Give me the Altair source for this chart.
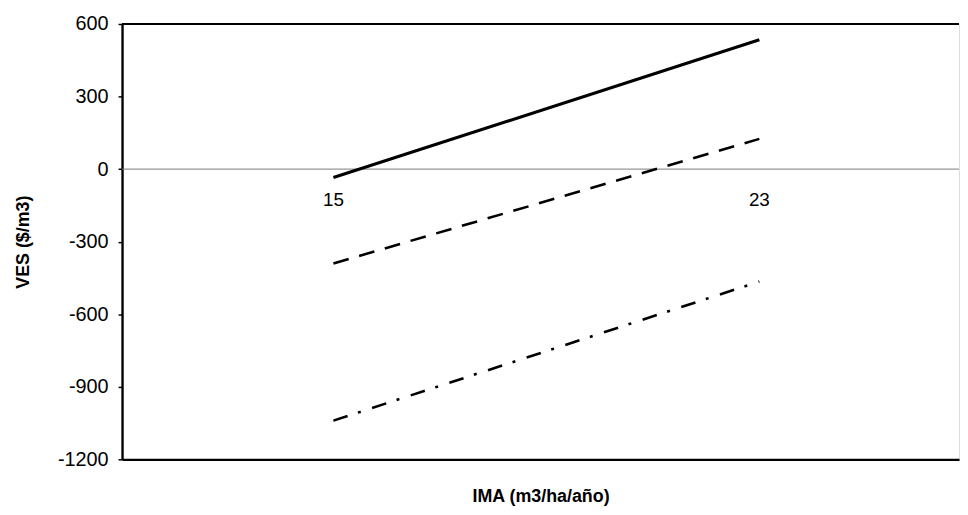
import altair as alt
import pandas as pd

# data
ima = [15, 23]
ima_labels = ["15", "23"]
serie_continua = [-35, 535]
serie_guiones = [-390, 125]
serie_punto_raya = [-1040, -465]
y_ticks = [-1200, -900, -600, -300, 0, 300, 600]

W, H = 844, 439
FONT = "Liberation Sans"

x_scale = alt.Scale(domain=[11.03, 26.75], nice=False, zero=False)
y_scale = alt.Scale(domain=[-1200, 600], nice=False)

df = pd.DataFrame({
    "IMA": ima * 3,
    "VES": serie_continua + serie_guiones + serie_punto_raya,
    "serie": ["continua"] * 2 + ["guiones"] * 2 + ["punto_raya"] * 2,
})
lab_df = pd.DataFrame({"IMA": ima, "lab": ima_labels, "VES": [0, 0]})

x_enc = alt.X("IMA:Q", scale=x_scale,
              axis=alt.Axis(title="IMA (m3/ha/año)", labels=False, ticks=False, grid=False,
                            domainColor="black", domainWidth=2.2,
                            titleFont=FONT, titleFontSize=18, titleFontWeight="bold",
                            titleColor="black", titlePadding=29))
y_enc = alt.Y("VES:Q", scale=y_scale,
              axis=alt.Axis(title="VES ($/m3)", values=y_ticks, grid=False,
                            labelExpr="'' + datum.value",
                            domainColor="black", domainWidth=2.4,
                            tickColor="black", tickSize=4, tickWidth=1.5,
                            labelFont=FONT, labelFontSize=20, labelColor="black",
                            labelPadding=10,
                            titleFont=FONT, titleFontSize=18, titleFontWeight="bold",
                            titleColor="black", titlePadding=25))

base = alt.Chart(df).encode(x=x_enc, y=y_enc)

zero_line = alt.Chart(pd.DataFrame({"VES": [0]})).mark_rule(color="#7a7a7a", strokeWidth=1).encode(
    y=alt.Y("VES:Q", scale=y_scale), x=alt.value(0), x2=alt.value(W))
top_line = alt.Chart(pd.DataFrame({"VES": [600]})).mark_rule(color="black", strokeWidth=2.2).encode(
    y=alt.Y("VES:Q", scale=y_scale), x=alt.value(0), x2=alt.value(W))

l1 = base.transform_filter("datum.serie == 'continua'").mark_line(
    color="black", strokeWidth=3.2)
l2 = base.transform_filter("datum.serie == 'guiones'").mark_line(
    color="black", strokeWidth=2.6, strokeDash=[16, 11])
l3 = base.transform_filter("datum.serie == 'punto_raya'").mark_line(
    color="black", strokeWidth=2.6, strokeDash=[15, 11, 3, 12])

labels = alt.Chart(lab_df).mark_text(font=FONT, fontSize=19, color="black",
                                     baseline="middle", align="center", dy=31).encode(
    x=alt.X("IMA:Q", scale=x_scale), y=alt.Y("VES:Q", scale=y_scale), text="lab:N")

chart = alt.layer(zero_line, top_line, l1, l2, l3, labels).properties(
    width=W, height=H,
    autosize=alt.AutoSizeParams(type="none"),
    padding={"left": 115, "top": 14, "right": 1, "bottom": 52},
).configure_view(stroke=None).configure(background="white")

chart.save("out.html", embed_options={"renderer": "svg", "actions": False})
